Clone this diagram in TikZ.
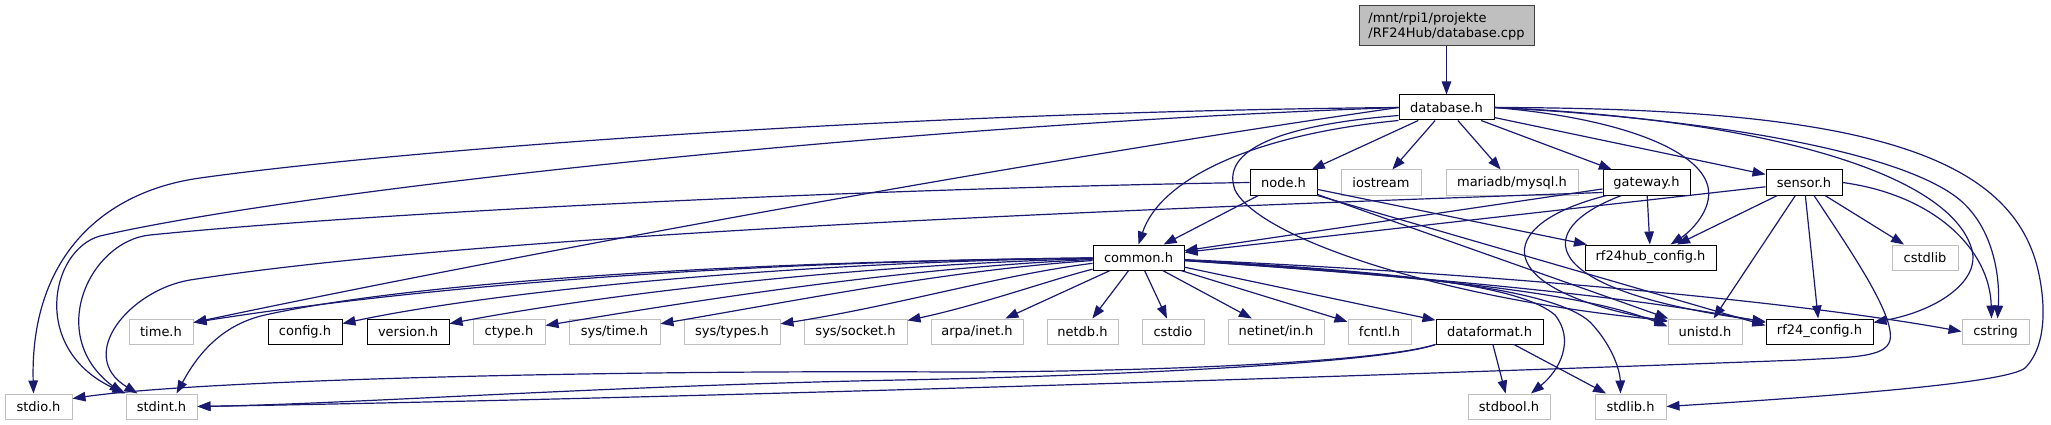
\documentclass[tikz,border=0pt]{standalone}
\usepackage{fontspec}
\setmainfont{DejaVu Sans}
\usetikzlibrary{arrows.meta}
\definecolor{edgeblue}{RGB}{25,25,112}
\definecolor{sysgray}{RGB}{191,191,191}

\begin{document}
\begin{tikzpicture}[
    x=1pt, y=-1pt,
    file/.style={rectangle, minimum height=25pt, inner xsep=2pt, inner ysep=1pt, line width=1pt, fill=white, font=\fontsize{13}{15}\selectfont},
    docfile/.style={file, draw=black},
    sysfile/.style={file, draw=sysgray},
    mainfile/.style={file, draw=black!75, fill=sysgray, align=left, minimum height=40pt},
    incl/.style={draw=edgeblue, line width=1.2pt, -{Triangle[length=13pt, width=9.5pt]}}
]
    \useasboundingbox (0,0) rectangle (2051,425);

    \node[mainfile, minimum width=175pt] (cpp) at (1446.5,26) {/mnt/rpi1/projekte\\/RF24Hub/database.cpp};
    \node[docfile, minimum width=95pt] (dbh) at (1446.5,107.5) {database.h};

    \node[docfile, minimum width=67pt] (nodeh) at (1283.5,182.5) {node.h};
    \node[sysfile, minimum width=80pt] (iostream) at (1381,182.5) {iostream};
    \node[sysfile, minimum width=132pt] (mysql) at (1512,182.5) {mariadb/mysql.h};
    \node[docfile, minimum width=87pt] (gateway) at (1646.5,182.5) {gateway.h};
    \node[docfile, minimum width=76pt] (sensor) at (1804,182.5) {sensor.h};

    \node[docfile, minimum width=91pt] (common) at (1138.5,257.5) {common.h};
    \node[docfile, minimum width=131pt] (rf24hub) at (1650.5,257.5) {rf24hub\_config.h};
    \node[sysfile, minimum width=66pt] (cstdlib) at (1925,257.5) {cstdlib};

    \node[sysfile, minimum width=64pt] (timeh) at (161,331.5) {time.h};
    \node[docfile, minimum width=74pt] (config) at (305,331.5) {config.h};
    \node[docfile, minimum width=82pt] (version) at (408,331.5) {version.h};
    \node[sysfile, minimum width=72pt] (ctype) at (509,331.5) {ctype.h};
    \node[sysfile, minimum width=91pt] (systime) at (614.5,331.5) {sys/time.h};
    \node[sysfile, minimum width=96pt] (systypes) at (732,331.5) {sys/types.h};
    \node[sysfile, minimum width=103pt] (syssocket) at (855.5,331.5) {sys/socket.h};
    \node[sysfile, minimum width=92pt] (arpainet) at (977,331.5) {arpa/inet.h};
    \node[sysfile, minimum width=71pt] (netdb) at (1082.5,331.5) {netdb.h};
    \node[sysfile, minimum width=62pt] (cstdio) at (1173,331.5) {cstdio};
    \node[sysfile, minimum width=96pt] (netinet) at (1276,331.5) {netinet/in.h};
    \node[sysfile, minimum width=63pt] (fcntl) at (1379.5,331.5) {fcntl.h};
    \node[docfile, minimum width=107pt] (dataformat) at (1489.5,331.5) {dataformat.h};
    \node[sysfile, minimum width=74pt] (unistd) at (1705,331.5) {unistd.h};
    \node[docfile, minimum width=107pt] (rf24cfg) at (1819.5,331.5) {rf24\_config.h};
    \node[sysfile, minimum width=67pt] (cstring) at (1995.5,331.5) {cstring};

    \node[sysfile, minimum width=67pt] (stdio) at (38.5,406.5) {stdio.h};
    \node[sysfile, minimum width=71pt] (stdint) at (161.5,406.5) {stdint.h};
    \node[sysfile, minimum width=82pt] (stdbool) at (1509,406.5) {stdbool.h};
    \node[sysfile, minimum width=71pt] (stdlib) at (1630.5,406.5) {stdlib.h};

    \draw[incl] (cpp) -- (dbh);

    \draw[incl] (dbh) -- (nodeh);
    \draw[incl] (dbh) -- (iostream);
    \draw[incl] (dbh) -- (mysql);
    \draw[incl] (dbh) -- (gateway);
    \draw[incl] (dbh) -- (sensor);
    \draw[incl] (dbh.south west) .. controls (1250,135) and (1160,180) .. (common.north);
    \draw[incl] (dbh.east) .. controls (1620,118) and (1700,150) .. (1708,187) .. controls (1713,210) and (1690,232) .. ([xshift=20pt]rf24hub.north);
    \draw[incl] ([yshift=-8pt]dbh.west) .. controls (1280,125) and (1220,150) .. (1235,190) .. controls (1260,240) and (1450,300) .. ([yshift=11pt]unistd.west);
    \draw[incl] (dbh.west) .. controls (1000,165) and (500,258) .. ([yshift=9pt]timeh.east);
    \draw[incl] (dbh.west) .. controls (900,112) and (400,150) .. (200,178) .. controls (100,192) and (30,260) .. ([xshift=-5pt]stdio.north);
    \draw[incl] (dbh.west) .. controls (900,125) and (300,190) .. (100,236) .. controls (50,250) and (30,350) .. (stdint.north west);
    \draw[incl] (dbh.east) .. controls (1750,118) and (1950,170) .. (1972,250) .. controls (1980,280) and (1940,310) .. ([yshift=9pt]rf24cfg.east);
    \draw[incl] (dbh.east) .. controls (1700,118) and (1900,150) .. (1960,200) .. controls (1995,230) and (2000,280) .. ([xshift=2pt]cstring.north);
    \draw[incl] (dbh.east) .. controls (1850,108) and (2010,150) .. (2038,270) .. controls (2045,300) and (2048,345) .. (2025,368) .. controls (2010,380) and (1900,392) .. (stdlib.east);

    \draw[incl] (nodeh) -- (common);
    \draw[incl] (nodeh.west) .. controls (900,188) and (400,210) .. (150,235) .. controls (90,241) and (45,335) .. ([xshift=-3pt]stdint.north west);
    \draw[incl] (nodeh) -- (rf24hub);
    \draw[incl] (nodeh) -- (unistd);
    \draw[incl] (nodeh.south east) -- ([yshift=6pt]rf24cfg.west);

    \draw[incl] (gateway) -- (common);
    \draw[incl] ([yshift=-10pt]gateway.west) .. controls (1100,210) and (480,235) .. (190,280) .. controls (130,290) and (75,355) .. ([xshift=-24pt]stdint.north);
    \draw[incl] (gateway) -- (rf24hub);
    \draw[incl] ([xshift=-40pt]gateway.south) .. controls (1490,225) and (1490,290) .. ([yshift=10pt]unistd.west);
    \draw[incl] ([xshift=-25pt]gateway.south) .. controls (1530,230) and (1535,290) .. ([yshift=10pt]rf24cfg.west);

    \draw[incl] (sensor) -- (common);
    \draw[incl] (sensor) -- (rf24hub);
    \draw[incl] (sensor) -- (unistd);
    \draw[incl] (sensor) -- (rf24cfg);
    \draw[incl] (sensor) -- (cstdlib);
    \draw[incl] ([xshift=10pt]sensor.south) .. controls (1850,250) and (1895,315) .. (1890,340) .. controls (1886,358) and (1850,357) .. (1800,360) .. controls (1400,375) and (700,398) .. (stdint.east);
    \draw[incl] (sensor.east) .. controls (1935,195) and (1990,250) .. ([xshift=-4pt]cstring.north);

    \draw[incl] (common) .. controls (700,262) and (400,290) .. ([yshift=9pt]timeh.east);
    \draw[incl] (common) .. controls (700,262) and (400,285) .. (265,315) .. controls (225,324) and (200,350) .. ([xshift=15pt]stdint.north);
    \draw[incl] (common) .. controls (800,262) and (500,290) .. (config);
    \draw[incl] (common) .. controls (850,265) and (600,295) .. (version);
    \draw[incl] (common) .. controls (900,268) and (700,300) .. (ctype);
    \draw[incl] (common) .. controls (950,270) and (800,300) .. (systime);
    \draw[incl] (common) .. controls (1000,275) and (900,305) .. (systypes);
    \draw[incl] (common) .. controls (1050,280) and (980,305) .. (syssocket);
    \draw[incl] (common) -- (arpainet);
    \draw[incl] (common) -- (netdb);
    \draw[incl] (common) -- (cstdio);
    \draw[incl] (common) -- (netinet);
    \draw[incl] (common) -- (fcntl);
    \draw[incl] (common) -- (dataformat);
    \draw[incl] (common) .. controls (1450,278) and (1590,295) .. ([yshift=5pt]unistd.west);
    \draw[incl] (common) .. controls (1500,282) and (1660,302) .. ([yshift=9pt]rf24cfg.west);
    \draw[incl] (common) .. controls (1500,274) and (1800,302) .. (cstring.west);
    \draw[incl] (common) .. controls (1400,272) and (1520,285) .. (1555,315) .. controls (1575,340) and (1560,370) .. ([xshift=22pt]stdbool.north);
    \draw[incl] (common) .. controls (1420,274) and (1555,290) .. (1590,322) .. controls (1612,345) and (1620,370) .. ([xshift=-10pt]stdlib.north);

    \draw[incl] (dataformat.south west) .. controls (1380,362) and (1150,372) .. (950,372) .. controls (600,370) and (200,380) .. ([yshift=8pt]stdio.east);
    \draw[incl] (dataformat.south west) .. controls (1380,364) and (1100,376) .. (900,380) .. controls (600,386) and (350,404) .. (stdint.east);
    \draw[incl] (dataformat) -- (stdbool);
    \draw[incl] (dataformat) -- (stdlib);
\end{tikzpicture}
\end{document}
